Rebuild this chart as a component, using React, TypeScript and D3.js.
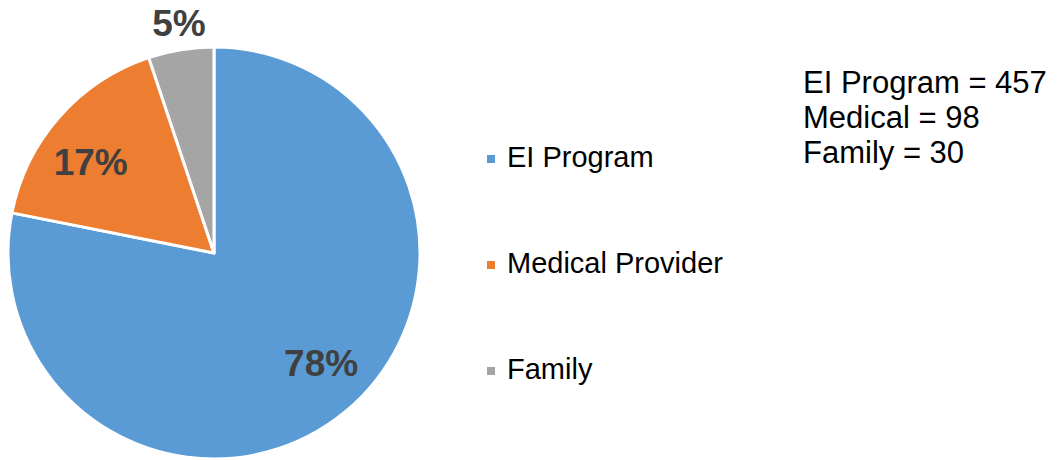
import React from "react";
import * as d3 from "d3";

const categories = ["EI Program", "Medical Provider", "Family"];
const values = [457, 98, 30];
const colors = ["#5B9BD5", "#ED7D31", "#A5A5A5"];
const summaryLines = ["EI Program = 457", "Medical = 98", "Family = 30"];

const W = 1059;
const H = 460;
const cx = 214;
const cy = 253;
const R = 206;

export default function App() {
  const total = d3.sum(values);
  const pie = d3.pie<number>().sort(null).startAngle(0).endAngle(2 * Math.PI);
  const arcs = pie(values);
  const arc = d3.arc<d3.PieArcDatum<number>>().innerRadius(0).outerRadius(R);
  const font = "'Liberation Sans', Arial, sans-serif";

  const labelPos = (a: d3.PieArcDatum<number>, frac: number): [number, number] => {
    const outside = frac < 0.1;
    const mid = (a.startAngle + a.endAngle) / 2 + (outside ? 0.01 : -0.085);
    const r = outside ? R * 1.13 : R * 0.745;
    return [Math.sin(mid) * r, -Math.cos(mid) * r];
  };

  return (
    <svg
      width={W}
      height={H}
      style={{ position: "absolute", left: 0, top: 0, background: "#fff" }}
      fontFamily={font}
    >
      <g transform={`translate(${cx},${cy})`}>
        {arcs.map((a, i) => (
          <path key={i} d={arc(a) || ""} fill={colors[i]} stroke="#fff" strokeWidth={3} strokeLinejoin="round" />
        ))}
        {arcs.map((a, i) => {
          const frac = a.value / total;
          const [x, y] = labelPos(a, frac);
          return (
            <text
              key={i}
              x={x}
              y={y}
              dy="0.36em"
              textAnchor="middle"
              fontSize={37}
              fontWeight="bold"
              fill="#404040"
            >
              {d3.format(".0%")(frac)}
            </text>
          );
        })}
      </g>
      <g>
        {categories.map((c, i) => (
          <g key={c} transform={`translate(487,${167 + i * 106})`}>
            <rect x={0} y={-12} width={8} height={8} fill={colors[i]} />
            <text x={20} y={0} fontSize={29} fill="#000">
              {c}
            </text>
          </g>
        ))}
      </g>
      <g>
        {summaryLines.map((t, i) => (
          <text key={t} x={803} y={93 + i * 35} fontSize={31} fill="#000">
            {t}
          </text>
        ))}
      </g>
    </svg>
  );
}
